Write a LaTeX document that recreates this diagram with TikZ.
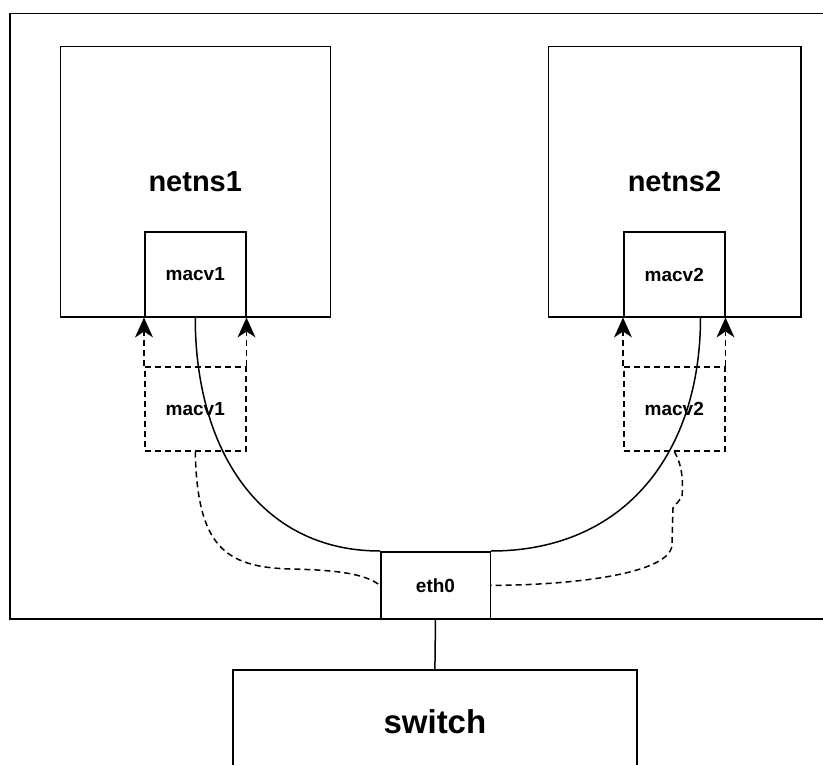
\documentclass[tikz,border=0pt]{standalone}
\usepackage{fontspec}
\setmainfont{Liberation Sans}
\usetikzlibrary{arrows.meta}
\begin{document}
\begin{tikzpicture}[x=1pt,y=-1pt,line width=1.5pt,
  box/.style={draw, rectangle, inner sep=0pt, anchor=north west,
    font=\bfseries\fontsize{19}{22}\selectfont},
  bigbox/.style={box, font=\bfseries\fontsize{29}{32}\selectfont},
  dbox/.style={box, dash pattern=on 6pt off 4pt},
  dline/.style={dash pattern=on 6pt off 4pt},
  tipstyle/.style={-{Stealth[length=20pt,width=18pt,inset=6pt,line width=0pt]}},
  darrow/.style={dline, tipstyle}]
  \useasboundingbox (0,0) rectangle (823,765);
  \clip (0,0) rectangle (823,765);

  % host and namespaces
  \node[box, minimum width=830pt, minimum height=605.5pt] (host) at (9.3,12.7) {};
  \node[bigbox, minimum width=270pt, minimum height=270pt] (ns1) at (59.5,46) {netns1};
  \node[bigbox, minimum width=252.5pt, minimum height=270pt] (ns2) at (547.5,46) {netns2};

  % macvlan interfaces inside the namespaces
  \node[box, minimum width=101pt, minimum height=84.5pt] (m1) at (144,231.5) {macv1};
  \node[box, minimum width=101pt, minimum height=84.5pt] (m2) at (623,231.5) {macv2};

  % macvlan interfaces before moving into the namespaces
  \node[dbox, minimum width=101pt, minimum height=84pt] (dm1) at (144,366) {macv1};
  \node[dbox, minimum width=101pt, minimum height=84pt] (dm2) at (623,366) {macv2};

  % physical interface and switch
  \node[box, minimum width=109.5pt, minimum height=67.2pt] (eth) at (380,551) {eth0};
  \node[box, minimum width=403.7pt, minimum height=104pt,
        font=\bfseries\fontsize{33}{36}\selectfont] (sw) at (232.3,669.3) {switch};

  % moves into the namespaces
  \draw[darrow] (dm1.north west) -- (m1.south west);
  \draw[darrow] (dm1.north east) -- (m1.south east);
  \draw[darrow] (dm2.north west) -- (m2.south west);
  \draw[darrow] (dm2.north east) -- (m2.south east);

  % links from the namespaced interfaces to eth0
  \draw (m1.south) .. controls +(0,134) and +(-119,0) .. (eth.north west);
  \draw ([xshift=-25pt]m2.south east) .. controls +(0,134) and +(135,0) .. (eth.north east);

  % links from the original interfaces to eth0
  \coordinate (c1) at (290,569);
  \draw[dline] (dm1.south) .. controls +(2,95) and +(-65,-2) .. (c1)
    .. controls +(50,1) and +(-14,-11) .. (eth.west);
  \coordinate (c2) at (682,497);
  \coordinate (c3) at (673,508);
  \coordinate (c4) at (672,545);
  \draw[dline] (dm2.south) .. controls +(9,15) and +(1,-12) .. (c2) -- (c3) -- (c4)
    .. controls +(-2,30) and +(75,0) .. (eth.east);

  % uplink
  \draw (eth.south) -- (sw.north);
\end{tikzpicture}
\end{document}
